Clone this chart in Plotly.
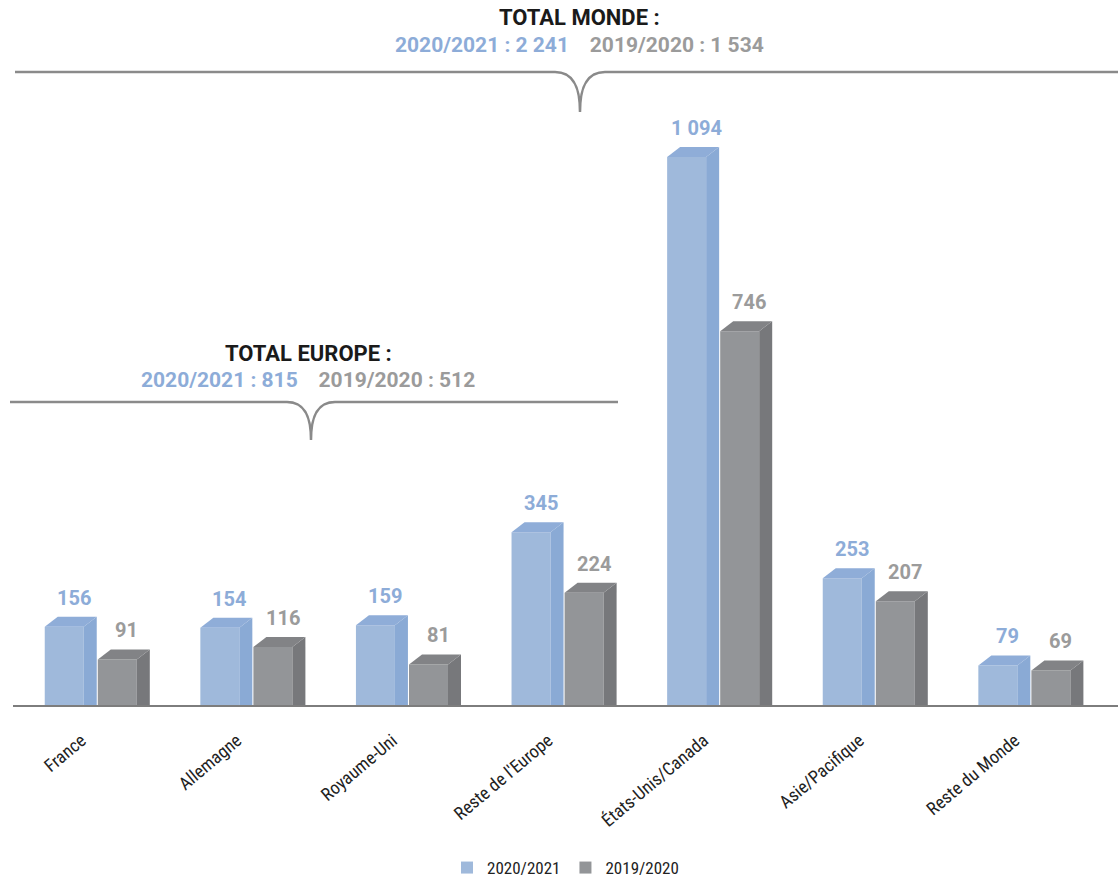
import plotly.graph_objects as go

categories = ["France", "Allemagne", "Royaume-Uni", "Reste de l'Europe",
              "États-Unis/Canada", "Asie/Pacifique", "Reste du Monde"]
v_2021 = [156, 154, 159, 345, 1094, 253, 79]
v_2020 = [91, 116, 81, 224, 746, 207, 69]
series_names = ["2020/2021", "2019/2020"]
total_monde = ["2 241", "1 534"]
total_europe = ["815", "512"]

W, H = 1118, 879
ML, MR, MT, MB = 13, 0, 4, 174
PW = W - ML - MR
PH = H - MT - MB
PX_PER_CAT = 155.6
PX_PER_VAL = 0.501
XR = [-0.5, -0.5 + PW / PX_PER_CAT]
YR = [0, PH / PX_PER_VAL]

BAR_W = 39 / PX_PER_CAT
DX = 13 / PX_PER_CAT
DY = 10 / PX_PER_VAL
OFFS = [-0.296, 0.045]

FRONT = ["#9fb9db", "#939598"]
SIDE = ["#8aaad5", "#77787b"]
TOP = ["#8fadd8", "#828386"]
LABEL = ["#8dacd8", "#9b9b9b"]

COND = "Liberation Sans Narrow, Roboto Condensed, Roboto, sans-serif"
BOLD = "Roboto, sans-serif"

fig = go.Figure()
shapes = []
annotations = []
idx = list(range(len(categories)))
for s, vals in enumerate([v_2021, v_2020]):
    fig.add_trace(go.Bar(x=idx, y=vals, offset=OFFS[s], width=BAR_W,
                         marker=dict(color=FRONT[s], line=dict(width=0)),
                         name=series_names[s], hoverinfo="skip"))
    for i, v in zip(idx, vals):
        x0 = i + OFFS[s]
        x1 = x0 + BAR_W
        side = f"M {x1},0 L {x1+DX},0 L {x1+DX},{v+DY} L {x1},{v} Z"
        top = f"M {x0},{v} L {x0+DX},{v+DY} L {x1+DX},{v+DY} L {x1},{v} Z"
        shapes.append(dict(type="path", path=side, xref="x", yref="y",
                           fillcolor=SIDE[s], line=dict(width=0), layer="above"))
        shapes.append(dict(type="path", path=top, xref="x", yref="y",
                           fillcolor=TOP[s], line=dict(width=0), layer="above"))
        annotations.append(dict(x=x0 + (BAR_W + DX) / 2 + 0.02, y=v + DY,
                                xref="x", yref="y", xanchor="center",
                                text="<b>" + f"{v:,}".replace(",", " ") + "</b>",
                                showarrow=False, yanchor="bottom", yshift=5,
                                font=dict(family=BOLD, size=20, color=LABEL[s])))


def xp(px):
    return (px - ML) / PW


def yp(py):
    return (MT + PH - py) / PH


def brace(left, right, y, cx, tip, half):
    pts = (f"M {xp(left)},{yp(y)} L {xp(cx-half)},{yp(y)} "
           f"C {xp(cx-half*0.2)},{yp(y)} {xp(cx)},{yp(y+(tip-y)*0.45)} {xp(cx)},{yp(tip)} "
           f"C {xp(cx)},{yp(y+(tip-y)*0.45)} {xp(cx+half*0.2)},{yp(y)} {xp(cx+half)},{yp(y)} "
           f"L {xp(right)},{yp(y)}")
    return dict(type="path", path=pts, xref="paper", yref="paper",
                line=dict(color="#8a8a8a", width=2.5))


shapes.append(brace(15, 1118, 72, 580, 112, 25))
shapes.append(brace(10, 618, 402, 311, 440, 24))


def title_block(cx, y1, y2, title, vals):
    annotations.append(dict(x=xp(cx), y=yp(y1), xref="paper", yref="paper",
                            xanchor="center", yanchor="middle",
                            text=f"<b>{title}</b>", showarrow=False,
                            font=dict(family=BOLD, size=22, color="#1a1a1a")))
    txt = (f"<span style='color:{LABEL[0]}'><b>{series_names[0]} : {vals[0]}</b></span>"
           f"&nbsp;&nbsp;&nbsp;&nbsp;"
           f"<span style='color:{LABEL[1]}'><b>{series_names[1]} : {vals[1]}</b></span>")
    annotations.append(dict(x=xp(cx), y=yp(y2), xref="paper", yref="paper",
                            xanchor="center", yanchor="middle",
                            text=txt, showarrow=False,
                            font=dict(family=BOLD, size=21, color="#1a1a1a")))


title_block(579, 18, 45, "TOTAL MONDE :", total_monde)
title_block(308, 353, 380, "TOTAL EUROPE :", total_europe)

fig.update_layout(
    width=W, height=H,
    margin=dict(l=ML, r=MR, t=MT, b=MB, autoexpand=False),
    paper_bgcolor="white", plot_bgcolor="white",
    barmode="overlay",
    shapes=shapes, annotations=annotations,
    showlegend=True,
    legend=dict(orientation="h", x=0.5, xanchor="center", y=yp(868), yanchor="middle",
                font=dict(family=COND, size=17, color="#222222"),
                traceorder="normal", itemwidth=30),
    xaxis=dict(range=XR, tickvals=[i - 0.06 for i in idx], ticktext=categories,
               tickangle=-40, automargin=False,
               showgrid=False, zeroline=False, showline=True, linecolor="#7d7d7d",
               linewidth=2, ticks="", ticklabelstandoff=16,
               tickfont=dict(family=COND, size=18, color="#222222")),
    yaxis=dict(range=YR, visible=False, showgrid=False, zeroline=False, automargin=False),
)

fig.write_html("out.html")
